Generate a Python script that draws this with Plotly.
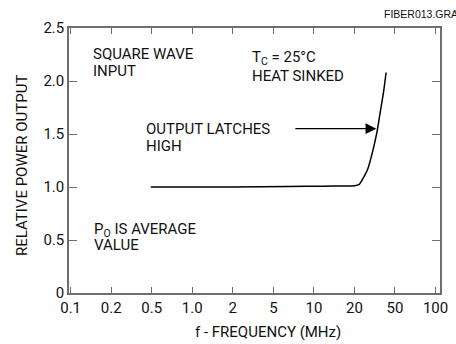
import numpy as np
import plotly.graph_objects as go

# Frequency axis: evenly spaced decade-ish ticks
tick_freqs = [0.1, 0.2, 0.5, 1.0, 2, 5, 10, 20, 50, 100]
tick_labels = ["0.1", "0.2", "0.5", "1.0", "2", "5", "10", "20", "50", "100"]
y_ticks = [0, 0.5, 1.0, 1.5, 2.0, 2.5]
y_labels = ["0", "0.5", "1.0", "1.5", "2.0", "2.5"]

# Relative power output vs frequency (MHz)
freq_mhz = [0.49, 1, 2, 6.5, 12, 20, 22.3, 24.9, 26.8, 29.9, 33.3, 35.6, 38.4, 40.9]
rel_power = [1.0, 1.0, 1.0, 1.005, 1.008, 1.012, 1.025, 1.10, 1.16, 1.32, 1.52,
             1.69, 1.88, 2.08]

# Arrow for the latch note (frequency, level)
arrow_tail_f = 7.1
arrow_tip_f = 32.8
arrow_level = 1.55

FONT = "Roboto, Liberation Sans, Arial, sans-serif"
GREY = "#6e6e6e"
TXT = "#111111"


def fpos(f):
    """Place a frequency on the evenly spaced tick grid (log interpolation between ticks)."""
    return float(np.interp(np.log10(f), np.log10(tick_freqs), np.arange(len(tick_freqs))))


# Plot-area geometry in pixels
W, H = 456, 344
L, R, T, B = 69, 8, 28, 51
PW, PH = W - L - R, H - T - B


def px(x):
    return (x - L) / PW


def py(y):
    return (H - B - y) / PH


fig = go.Figure()
fig.add_trace(go.Scatter(
    x=[fpos(f) for f in freq_mhz], y=rel_power,
    mode="lines", line=dict(color="black", width=1.5, shape="spline", smoothing=0.6),
    hoverinfo="skip", showlegend=False,
))

ann = []


def label(text, x, y, size=15, xanchor="left", **kw):
    ann.append(dict(text=text, x=px(x), y=py(y), xref="paper", yref="paper",
                    xanchor=xanchor, yanchor="middle", showarrow=False,
                    font=dict(family=FONT, size=size, color=TXT), **kw))


label("SQUARE WAVE", 91, 54)
label("INPUT", 91, 71)
label("T<sub>C</sub> = 25°C", 254, 58)
label("HEAT SINKED", 254, 76)
label("OUTPUT LATCHES", 146, 129)
label("HIGH", 146, 146)
label("P<sub>O</sub> IS AVERAGE", 92, 230)
label("VALUE", 92, 245)
label("f - FREQUENCY (MHz)", 272, 332, xanchor="center")
label("RELATIVE POWER OUTPUT", 21, 166, xanchor="center", textangle=-90)
ann.append(dict(text="FIBER013.GRA", x=px(389), y=py(14), xref="paper", yref="paper",
                xanchor="left", yanchor="middle", showarrow=False,
                font=dict(family="Liberation Sans, Arial, sans-serif", size=10.5, color=TXT)))

ann.append(dict(x=fpos(arrow_tip_f), y=arrow_level, ax=fpos(arrow_tail_f), ay=arrow_level,
                xref="x", yref="y", axref="x", ayref="y", text="", showarrow=True,
                arrowhead=2, arrowsize=1.8, arrowwidth=1.2, arrowcolor="black", standoff=0))

fig.update_layout(
    width=W, height=H,
    margin=dict(l=L, r=R, t=T, b=B),
    paper_bgcolor="white", plot_bgcolor="white",
    annotations=ann,
    xaxis=dict(range=[-0.04, 9.11], tickvals=list(range(len(tick_freqs))),
               ticktext=tick_labels, ticks="inside", ticklen=6, tickcolor=GREY,
               showline=True, linecolor=GREY, linewidth=1.5, mirror="ticks",
               showgrid=False, zeroline=False, ticklabeloverflow="allow",
               tickfont=dict(family=FONT, size=15, color=TXT)),
    yaxis=dict(range=[0, 2.5], tickvals=y_ticks, ticktext=y_labels,
               ticks="inside", ticklen=8, tickcolor=GREY,
               showline=True, linecolor=GREY, linewidth=1.5, mirror="ticks",
               showgrid=False, zeroline=False, ticklabeloverflow="allow",
               tickfont=dict(family=FONT, size=15, color=TXT)),
)

fig.write_html("out.html")
